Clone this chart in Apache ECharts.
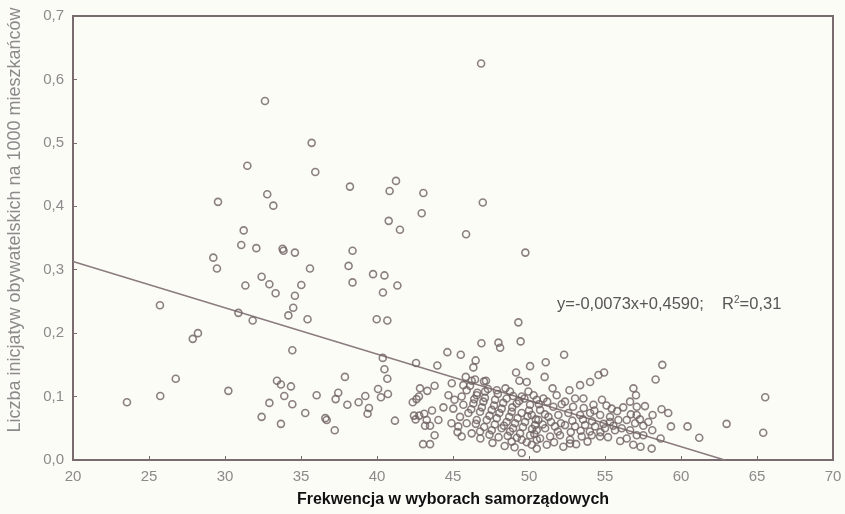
<!DOCTYPE html>
<html>
<head>
<meta charset="utf-8">
<script src="https://cdn.jsdelivr.net/npm/echarts@6/dist/echarts.min.js"></script>
<style>
  html, body { margin: 0; padding: 0; background: #fcfcf7; }
  #chart { width: 845px; height: 514px; }
</style>
</head>
<body>
<div id="chart"></div>
<script>
// Turnout in local elections (%) vs. civic initiatives per 1000 inhabitants, one point per commune
const lowTurnout = [
  [23.55,0.091],[25.72,0.244],[25.74,0.101],[26.76,0.128],[27.88,0.191],[28.22,0.200],[29.23,0.319],[29.47,0.302],
  [29.54,0.407],[30.22,0.109],[30.88,0.232],[31.07,0.339],[31.23,0.362],[31.34,0.275],[31.47,0.464],[31.82,0.220],
  [32.06,0.334],[32.41,0.289],[32.41,0.068],[32.63,0.566],[32.78,0.419],[32.92,0.277],[32.92,0.090],[33.18,0.401],
  [33.33,0.263],[33.42,0.125],[33.68,0.119],[33.68,0.057],[33.79,0.333],[33.85,0.330],[33.90,0.101],[34.17,0.228],
  [34.34,0.116],[34.43,0.173],[34.43,0.088],[34.49,0.240],[34.60,0.327],[34.60,0.259],[35.02,0.276],[35.28,0.074],
  [35.43,0.222],[35.59,0.302],[35.70,0.500],[35.94,0.454],[36.03,0.102],[36.60,0.066],[36.69,0.063],[37.22,0.047],
  [37.28,0.096],[37.45,0.106],[37.89,0.131],[38.05,0.087],[38.13,0.306],[38.22,0.431],[38.39,0.330],[38.39,0.280],
  [38.79,0.091],[39.23,0.101],[39.38,0.073],[39.47,0.082],[39.74,0.293],[39.98,0.222]
];
const midTurnout = [
  [40.07,0.112],[40.26,0.099],[40.38,0.161],[40.39,0.264],[40.49,0.291],[40.49,0.143],[40.68,0.220],[40.68,0.128],
  [40.72,0.104],[40.77,0.377],[40.83,0.424],[41.18,0.062],[41.25,0.440],[41.34,0.275],[41.51,0.363],[42.35,0.091],
  [42.43,0.070],[42.54,0.064],[42.57,0.153],[42.60,0.096],[42.76,0.100],[42.78,0.070],[42.83,0.113],[42.94,0.389],
  [43.03,0.025],[43.05,0.421],[43.11,0.073],[43.16,0.054],[43.27,0.063],[43.31,0.109],[43.49,0.054],[43.49,0.025],
  [43.62,0.078],[43.79,0.117],[43.79,0.039],[43.97,0.149],[44.04,0.063],[44.63,0.170],[44.92,0.121],[45.51,0.166],
  [45.68,0.118],[45.84,0.131],[45.86,0.356],[46.23,0.125],[46.34,0.146],[46.49,0.157],[46.85,0.625],[46.87,0.184],
  [46.96,0.406],[47.17,0.125],[47.99,0.185],[48.10,0.177],[49.15,0.138],[49.30,0.217],[49.37,0.125],[49.45,0.187],
  [49.76,0.327],[49.85,0.123],[50.07,0.148]
];
const coreCluster = [
  [49.96,0.108],[49.52,0.100],[48.75,0.108],[47.88,0.110],[47.11,0.108],[46.56,0.102],[45.90,0.110],[45.57,0.100],
  [44.37,0.083],[45.02,0.081],[45.68,0.087],[46.34,0.089],[47.00,0.092],[47.77,0.095],[48.53,0.097],[49.19,0.089],
  [50.07,0.087],[50.51,0.095],[45.46,0.068],[46.01,0.074],[46.78,0.076],[47.55,0.079],[48.20,0.081],[48.86,0.076],
  [49.52,0.074],[50.18,0.071],[45.35,0.053],[45.90,0.058],[46.56,0.063],[47.22,0.063],[47.88,0.066],[48.53,0.060],
  [49.08,0.058],[49.74,0.060],[50.40,0.055],[45.57,0.037],[46.23,0.042],[46.78,0.045],[47.55,0.047],[48.20,0.050],
  [48.75,0.045],[49.41,0.042],[50.07,0.039],[50.51,0.032],[48.86,0.029],[49.52,0.032],[50.18,0.024],[49.52,0.011],
  [46.45,0.127],[46.12,0.117],[47.04,0.124],[46.60,0.106],[47.30,0.112],[47.95,0.104],[48.45,0.113],[48.95,0.101],
  [49.70,0.097],[50.30,0.102],[46.40,0.096],[47.10,0.098],[47.70,0.086],[48.30,0.090],[48.90,0.083],[49.35,0.093],
  [50.00,0.078],[50.65,0.088],[51.20,0.092],[46.20,0.080],[46.90,0.083],[47.40,0.070],[48.05,0.074],[48.70,0.068],
  [49.25,0.066],[49.90,0.069],[50.45,0.064],[51.05,0.072],[46.50,0.057],[47.05,0.052],[47.75,0.056],[48.35,0.054],
  [48.95,0.050],[49.60,0.052],[50.20,0.049],[50.90,0.056],[46.80,0.034],[47.40,0.040],[48.00,0.036],[48.60,0.038],
  [49.20,0.035],[49.85,0.028],[50.35,0.041],[47.60,0.027],[48.40,0.022],[49.05,0.020],[45.10,0.095],[44.70,0.102],
  [45.30,0.044],[44.90,0.058]
];
const eastCluster = [
  [52.31,0.166],[51.10,0.154],[51.03,0.131],[54.94,0.138],[54.57,0.134],[54.02,0.123],[53.36,0.118],[52.66,0.110],
  [51.82,0.102],[50.95,0.097],[54.80,0.095],[55.44,0.081],[54.24,0.087],[53.58,0.097],[53.03,0.097],[52.37,0.092],
  [51.60,0.084],[50.73,0.079],[56.87,0.113],[57.04,0.102],[56.65,0.092],[57.09,0.084],[56.43,0.063],[56.98,0.058],
  [56.65,0.047],[57.09,0.039],[56.43,0.034],[50.62,0.063],[51.28,0.068],[51.93,0.071],[52.59,0.074],[53.36,0.071],
  [54.02,0.074],[54.68,0.071],[55.33,0.068],[50.51,0.047],[51.06,0.050],[51.71,0.053],[52.37,0.055],[53.03,0.053],
  [53.69,0.055],[54.35,0.053],[55.00,0.050],[50.73,0.034],[51.39,0.037],[52.04,0.039],[52.70,0.032],[53.47,0.037],
  [54.13,0.039],[54.68,0.037],[50.51,0.018],[51.17,0.024],[52.26,0.021],[52.70,0.026],[55.33,0.060],[55.88,0.063],
  [55.66,0.047],[51.55,0.113],[52.15,0.088],[52.90,0.084],[53.60,0.082],[54.30,0.078],[55.10,0.086],[55.80,0.077],
  [56.20,0.083],[51.45,0.060],[52.10,0.058],[52.85,0.062],[53.55,0.064],[54.15,0.061],[54.90,0.057],[55.55,0.054],
  [56.10,0.050],[51.90,0.045],[52.75,0.044],[53.40,0.046],[54.00,0.045],[54.70,0.044],[51.65,0.028],[53.10,0.025],
  [53.85,0.029],[55.20,0.036],[56.00,0.030],[57.85,0.060],[56.70,0.072],[57.30,0.064]
];
const highTurnout = [
  [58.77,0.150],[58.33,0.127],[57.63,0.085],[58.72,0.080],[59.16,0.074],[58.13,0.071],[57.08,0.071],[59.34,0.053],
  [60.43,0.053],[58.11,0.047],[57.52,0.054],[57.52,0.039],[58.66,0.034],[61.20,0.035],[63.00,0.057],[65.54,0.099],
  [65.41,0.043],[56.86,0.024],[57.34,0.021],[58.07,0.018]
];

// Linear fit: y = SLOPE * x + INTERCEPT
const SLOPE = -0.0073;
const INTERCEPT = 0.4590;
const R2 = '0,31';

const xTicks = { min: 20, max: 70, step: 5 };
const yTicks = { min: 0, max: 0.7, step: 0.1 };

const points = [].concat(lowTurnout, midTurnout, coreCluster, eastCluster, highTurnout);
const xZero = -INTERCEPT / SLOPE;
const fitLine = [[xTicks.min, SLOPE * xTicks.min + INTERCEPT], [xZero, 0]];

const frame = '#7a6b70';
const tickText = '#8c8a8a';
const font = 'Liberation Sans, Arial, sans-serif';
const fmt = (v, d) => v.toFixed(d).replace('.', ',');

const chart = echarts.init(document.getElementById('chart'));
chart.setOption({
  backgroundColor: '#fcfcf7',
  animation: false,
  grid: { left: 73, right: 12, top: 16, bottom: 54, show: true, borderColor: frame, borderWidth: 2, backgroundColor: 'transparent' },
  xAxis: {
    type: 'value', min: xTicks.min, max: xTicks.max, interval: xTicks.step,
    name: 'Frekwencja w wyborach samorządowych', nameLocation: 'middle', nameGap: 32,
    nameTextStyle: { color: '#111', fontWeight: 'bold', fontSize: 16, fontFamily: font },
    axisLine: { show: true, lineStyle: { color: frame, width: 2 } },
    axisTick: { show: true, inside: true, length: 4, lineStyle: { color: frame } },
    splitLine: { show: false },
    axisLabel: { color: tickText, fontSize: 15, margin: 9, fontFamily: font, formatter: v => String(v) }
  },
  yAxis: {
    type: 'value', min: yTicks.min, max: yTicks.max, interval: yTicks.step,
    axisLine: { show: true, lineStyle: { color: frame, width: 2 } },
    axisTick: { show: true, inside: true, length: 4, lineStyle: { color: frame } },
    splitLine: { show: false },
    axisLabel: { color: tickText, fontSize: 15, margin: 9, fontFamily: font, formatter: v => fmt(v, 1) }
  },
  graphic: [
    {
      type: 'text', x: 15, y: 220, rotation: Math.PI / 2,
      style: {
        text: 'Liczba inicjatyw obywatelskich na 1000 mieszkańców',
        fill: tickText, fontSize: 18, fontFamily: font,
        align: 'center', verticalAlign: 'middle'
      }
    },
    {
      type: 'text', x: 557, y: 304,
      style: {
        text: '{a|y=' + fmt(SLOPE, 4) + 'x+' + fmt(INTERCEPT, 4) + ';    R}{s|2}{a|=' + R2 + '}',
        rich: {
          a: { fill: '#585656', fontSize: 16.5, fontFamily: font, lineHeight: 18 },
          s: { fill: '#585656', fontSize: 10, fontFamily: font, verticalAlign: 'top', lineHeight: 18 }
        },
        align: 'left', verticalAlign: 'middle'
      }
    }
  ],
  series: [
    {
      type: 'line', data: fitLine, symbol: 'none', silent: true, z: 1,
      lineStyle: { color: '#8a7b7e', width: 1.5 }
    },
    {
      type: 'scatter', data: points, symbol: 'circle', symbolSize: 7, z: 2,
      itemStyle: { color: 'rgba(0,0,0,0)', borderColor: '#6e6062', borderWidth: 1.6 }
    }
  ]
});
</script>
</body>
</html>
